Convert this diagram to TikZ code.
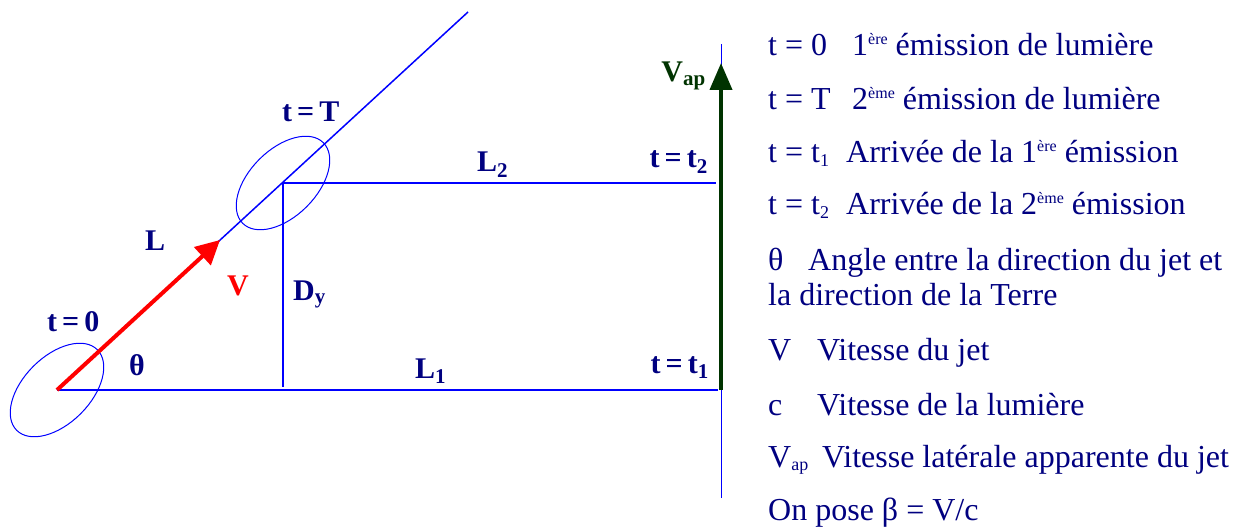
\documentclass[tikz,border=0pt]{standalone}
\usepackage{fontspec}
\setmainfont{Liberation Serif}
\usepackage{xcolor}
\usetikzlibrary{arrows.meta}

\definecolor{navy}{RGB}{0,0,128}
\definecolor{jetblue}{RGB}{0,0,255}
\definecolor{dkgreen}{RGB}{0,51,0}

% small raised / lowered text of the legend
\newcommand{\expo}[1]{\raisebox{0.36em}{\fontsize{16}{16}\selectfont #1}}
\newcommand{\indx}[1]{\raisebox{-0.12em}{\fontsize{18}{18}\selectfont #1}}

\begin{document}
\begin{tikzpicture}[x=1pt, y=1pt,
  lbl/.style={anchor=base west, inner sep=0pt, text=navy, font=\fontsize{30}{36}\selectfont\bfseries},
  txt/.style={anchor=base west, inner sep=0pt, text=navy, font=\fontsize{32}{38}\selectfont},
  ray/.style={draw, jetblue, line width=1.5pt},
  orb/.style={draw, jetblue, line width=1pt},
  vec/.style={draw, line width=4pt, -{Triangle[length=24pt, width=24pt]}}]

  \useasboundingbox (0,0) rectangle (1236,528);

  % points of the jet and of the observer
  \coordinate (src) at (57,138);
  \coordinate (emit) at (283,345);
  \coordinate (far) at (468,516);
  \coordinate (tip) at (220,288);
  \coordinate (foot) at (283,141);
  \coordinate (arrone) at (718,138);
  \coordinate (arrtwo) at (716,345);
  \coordinate (axbot) at (721,30);
  \coordinate (axtop) at (721,484);
  \coordinate (vbot) at (721,138);
  \coordinate (vtop) at (721,465);

  \draw [ray] (src) -- (far);
  \draw [ray] (src) -- (arrone);
  \draw [ray] (emit) -- (arrtwo);
  \draw [ray] (emit) -- (foot);
  \draw [orb, rotate around={45:(src)}] (src) ellipse (57 and 33.5);
  \draw [orb, rotate around={45:(emit)}] (emit) ellipse (57 and 33.5);
  \draw [jetblue, line width=1pt] (axbot) -- (axtop);
  \draw [vec, red] (src) -- (tip);
  \draw [vec, dkgreen, -{Triangle[length=27pt, width=22pt]}] (vbot) -- (vtop);

  \node [lbl] (tzero) at (47,197) {t\,=\,0};
  \node [lbl] (tT) at (282,406) {t\,=\,T};
  \node [lbl] (lenL) at (145,277) {L};
  \node [lbl, text=red] (vel) at (227,233) {V};
  \node [lbl] (dy) at (293,228) {D\textsubscript{y}};
  \node [lbl] (theta) at (129,153) {θ};
  \node [lbl] (ltwo) at (477,356) {L\textsubscript{2}};
  \node [lbl] (lone) at (415,150) {L\textsubscript{1}};
  \node [lbl, anchor=base east] (ttwo) at (708,360) {t\,=\,t\textsubscript{2}};
  \node [lbl, anchor=base east] (tone) at (709,155) {t\,=\,t\textsubscript{1}};
  \node [lbl, anchor=base east, text=dkgreen] (vap) at (706,446) {V\textsubscript{ap}};

  % legend
  \node [txt] (leg1) at (768,472) {\makebox[84pt][l]{t = 0}1\expo{ère} émission de lumière};
  \node [txt] (leg2) at (768,418) {\makebox[84pt][l]{t = T}2\expo{ème} émission de lumière};
  \node [txt] (leg3) at (768,365) {\makebox[78pt][l]{t = t\indx{1}}Arrivée de la 1\expo{ère} émission};
  \node [txt] (leg4) at (768,313) {\makebox[78pt][l]{t = t\indx{2}}Arrivée de la 2\expo{ème} émission};
  \node [txt] (leg5) at (768,258) {\makebox[40pt][l]{θ}Angle entre la direction du jet et};
  \node [txt] (leg6) at (768,223) {la direction de la Terre};
  \node [txt] (leg7) at (768,168) {\makebox[49pt][l]{V}Vitesse du jet};
  \node [txt] (leg8) at (768,113) {\makebox[49pt][l]{c}Vitesse de la lumière};
  \node [txt] (leg9) at (768,61) {\makebox[54pt][l]{V\indx{ap}}Vitesse latérale apparente du jet};
  \node [txt] (leg10) at (768,8) {On pose β = V/c};
\end{tikzpicture}
\end{document}
